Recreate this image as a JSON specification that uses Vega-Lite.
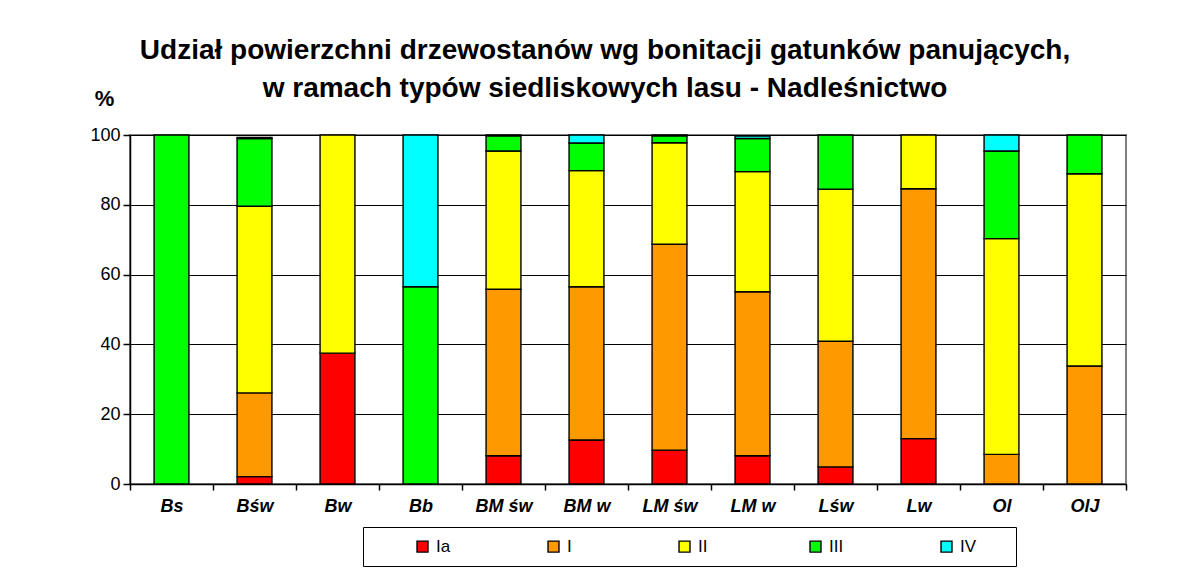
{
  "$schema": "https://vega.github.io/schema/vega-lite/v6.json",
  "autosize": {"type": "none"},
  "width": 996,
  "height": 349,
  "padding": {"left": 130, "top": 135, "right": 56, "bottom": 87},
  "background": "white",
  "title": {
    "text": ["Udział powierzchni drzewostanów wg bonitacji gatunków panujących,", "w ramach typów siedliskowych lasu - Nadleśnictwo"],
    "font": "Liberation Sans",
    "fontSize": 28,
    "fontWeight": "bold",
    "lineHeight": 38,
    "anchor": "middle",
    "frame": "group",
    "dx": -23,
    "offset": -16,
    "color": "black"
  },
  "data": {
    "values": [
      {"typ": "Bs", "bon": "III", "ord": 4, "val": 100},
      {"typ": "Bśw", "bon": "Ia", "ord": 1, "val": 2.1},
      {"typ": "Bśw", "bon": "I", "ord": 2, "val": 24},
      {"typ": "Bśw", "bon": "II", "ord": 3, "val": 53.5},
      {"typ": "Bśw", "bon": "III", "ord": 4, "val": 19.4},
      {"typ": "Bśw", "bon": "IV", "ord": 5, "val": 0.3},
      {"typ": "Bw", "bon": "Ia", "ord": 1, "val": 37.5},
      {"typ": "Bw", "bon": "II", "ord": 3, "val": 62.5},
      {"typ": "Bb", "bon": "III", "ord": 4, "val": 56.5},
      {"typ": "Bb", "bon": "IV", "ord": 5, "val": 43.5},
      {"typ": "BM św", "bon": "Ia", "ord": 1, "val": 8.1},
      {"typ": "BM św", "bon": "I", "ord": 2, "val": 47.7},
      {"typ": "BM św", "bon": "II", "ord": 3, "val": 39.6},
      {"typ": "BM św", "bon": "III", "ord": 4, "val": 4.4},
      {"typ": "BM św", "bon": "IV", "ord": 5, "val": 0.2},
      {"typ": "BM w", "bon": "Ia", "ord": 1, "val": 12.6},
      {"typ": "BM w", "bon": "I", "ord": 2, "val": 43.9},
      {"typ": "BM w", "bon": "II", "ord": 3, "val": 33.3},
      {"typ": "BM w", "bon": "III", "ord": 4, "val": 7.9},
      {"typ": "BM w", "bon": "IV", "ord": 5, "val": 2.3},
      {"typ": "LM św", "bon": "Ia", "ord": 1, "val": 9.7},
      {"typ": "LM św", "bon": "I", "ord": 2, "val": 59},
      {"typ": "LM św", "bon": "II", "ord": 3, "val": 29.1},
      {"typ": "LM św", "bon": "III", "ord": 4, "val": 2},
      {"typ": "LM św", "bon": "IV", "ord": 5, "val": 0.2},
      {"typ": "LM w", "bon": "Ia", "ord": 1, "val": 8.1},
      {"typ": "LM w", "bon": "I", "ord": 2, "val": 47},
      {"typ": "LM w", "bon": "II", "ord": 3, "val": 34.4},
      {"typ": "LM w", "bon": "III", "ord": 4, "val": 9.5},
      {"typ": "LM w", "bon": "IV", "ord": 5, "val": 0.7},
      {"typ": "Lśw", "bon": "Ia", "ord": 1, "val": 4.9},
      {"typ": "Lśw", "bon": "I", "ord": 2, "val": 36},
      {"typ": "Lśw", "bon": "II", "ord": 3, "val": 43.6},
      {"typ": "Lśw", "bon": "III", "ord": 4, "val": 15.5},
      {"typ": "Lw", "bon": "Ia", "ord": 1, "val": 13},
      {"typ": "Lw", "bon": "I", "ord": 2, "val": 71.6},
      {"typ": "Lw", "bon": "II", "ord": 3, "val": 15.4},
      {"typ": "Ol", "bon": "I", "ord": 2, "val": 8.5},
      {"typ": "Ol", "bon": "II", "ord": 3, "val": 61.8},
      {"typ": "Ol", "bon": "III", "ord": 4, "val": 25.1},
      {"typ": "Ol", "bon": "IV", "ord": 5, "val": 4.6},
      {"typ": "OlJ", "bon": "I", "ord": 2, "val": 33.8},
      {"typ": "OlJ", "bon": "II", "ord": 3, "val": 55.1},
      {"typ": "OlJ", "bon": "III", "ord": 4, "val": 11.1}
    ]
  },
  "mark": {"type": "bar", "width": {"band": 0.42}, "stroke": "black", "strokeWidth": 1.4},
  "encoding": {
    "x": {
      "field": "typ",
      "type": "nominal",
      "sort": ["Bs", "Bśw", "Bw", "Bb", "BM św", "BM w", "LM św", "LM w", "Lśw", "Lw", "Ol", "OlJ"],
      "scale": {"paddingInner": 0, "paddingOuter": 0},
      "axis": {
        "title": null,
        "labelAngle": 0,
        "labelFont": "Liberation Sans",
        "labelFontSize": 18,
        "labelFontWeight": "bold",
        "labelFontStyle": "italic",
        "labelColor": "black",
        "labelPadding": 7,
        "tickBand": "extent",
        "tickColor": "black",
        "tickSize": 6,
        "tickWidth": 1.5,
        "domainColor": "black",
        "domainWidth": 1.5,
        "grid": false
      }
    },
    "y": {
      "field": "val",
      "type": "quantitative",
      "stack": "zero",
      "scale": {"domain": [0, 100], "nice": false},
      "axis": {
        "values": [0, 20, 40, 60, 80, 100],
        "title": "%",
        "titleAngle": 0,
        "titleX": -26,
        "titleY": -30,
        "titleAlign": "center",
        "titleBaseline": "alphabetic",
        "titleFont": "Liberation Sans",
        "titleFontSize": 22,
        "titleFontWeight": "bold",
        "titleColor": "black",
        "labelFont": "Liberation Sans",
        "labelFontSize": 18,
        "labelColor": "black",
        "labelPadding": 3,
        "tickColor": "black",
        "tickSize": 7,
        "tickWidth": 1.5,
        "domainColor": "black",
        "domainWidth": 1.5,
        "grid": true,
        "gridColor": "black",
        "gridWidth": 1.2
      }
    },
    "color": {
      "field": "bon",
      "type": "nominal",
      "scale": {
        "domain": ["Ia", "I", "II", "III", "IV"],
        "range": ["#FF0000", "#FF9900", "#FFFF00", "#00FF00", "#00FFFF"]
      },
      "legend": {
        "title": " ",
        "titleOrient": "right",
        "titlePadding": 29,
        "titleFontSize": 10,
        "orient": "none",
        "legendX": 233,
        "legendY": 392,
        "direction": "horizontal",
        "columns": 5,
        "gridAlign": "all",
        "columnPadding": 52,
        "padding": 11,
        "strokeColor": "black",
        "fillColor": "white",
        "symbolType": "square",
        "symbolSize": 120,
        "symbolStrokeColor": "black",
        "symbolStrokeWidth": 1.4,
        "symbolOpacity": 1,
        "symbolOffset": 40,
        "labelFont": "Liberation Sans",
        "labelFontSize": 17,
        "labelColor": "black",
        "labelOffset": 5
      }
    },
    "order": {"field": "ord", "type": "quantitative", "sort": "ascending"}
  },
  "config": {
    "view": {"stroke": "#808080", "strokeWidth": 2}
  }
}
